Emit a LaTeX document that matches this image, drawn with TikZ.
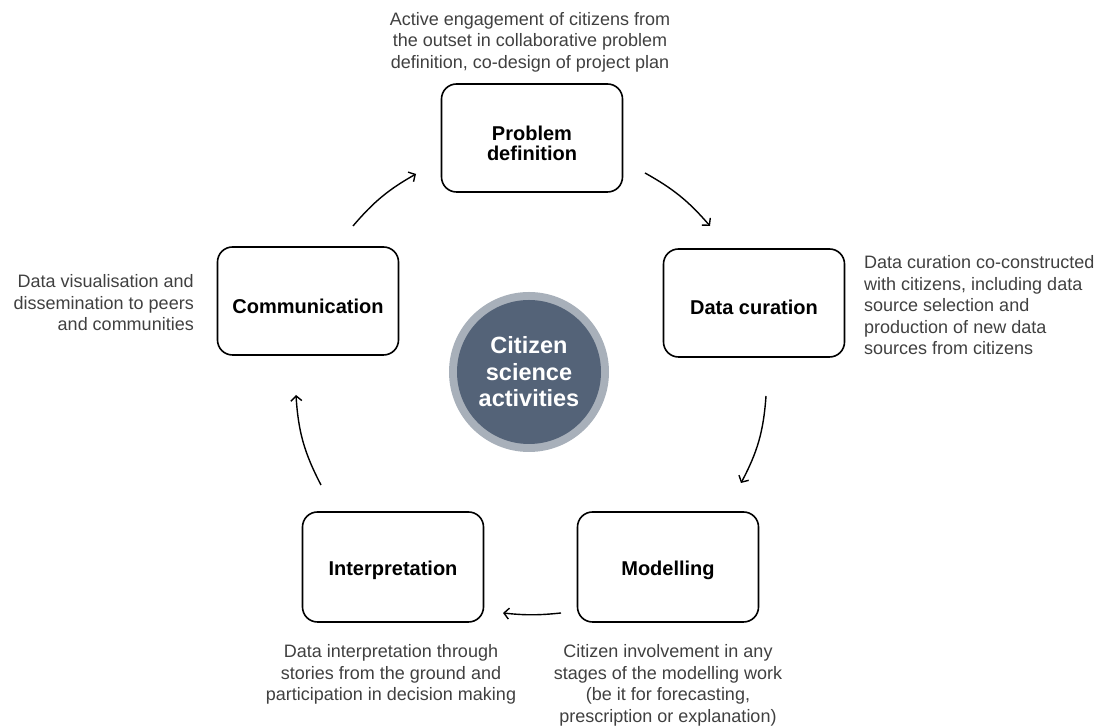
\documentclass[tikz,border=0pt]{standalone}
\usepackage{fontspec}
\setmainfont{Liberation Sans}
\usetikzlibrary{arrows.meta}
\definecolor{ringgray}{HTML}{A8B0BA}
\definecolor{coreblue}{HTML}{546378}
\definecolor{textgray}{HTML}{404040}
\begin{document}
\begin{tikzpicture}[x=1pt,y=1pt,
  box/.style={draw, line width=1.6pt, rounded corners=15pt, minimum width=181pt, minimum height=108pt, inner sep=0pt},
  boxlabel/.style={font=\fontsize{20}{20}\selectfont\bfseries, align=center, inner sep=0pt},
  desc/.style={text=textgray, font=\fontsize{18}{21.5}\selectfont, inner sep=0pt},
  flow/.style={line width=1.4pt, -{Straight Barb[length=5pt,width=11pt,line width=1.4pt]}}]
\useasboundingbox (0,0) rectangle (1104,727);
% boxes
\node[box] (prob) at (532,589) {};
\node[box] (data) at (754,424) {};
\node[box] (comm) at (308,426) {};
\node[box, minimum height=110pt] (model) at (668,160) {};
\node[box, minimum height=110pt] (interp) at (393,160) {};
\node[boxlabel, anchor=north] (probl) at ([yshift=12pt]prob.center) {Problem\\definition};
\node[boxlabel, anchor=base] (datal) at ([yshift=-12pt]data.center) {Data curation};
\node[boxlabel, anchor=base] (comml) at ([yshift=-12.5pt]comm.center) {Communication};
\node[boxlabel, anchor=base] (modell) at ([yshift=-9pt]model.center) {Modelling};
\node[boxlabel, anchor=base] (interpl) at ([yshift=-9pt]interp.center) {Interpretation};
% centre
\node[circle, fill=ringgray, minimum size=160pt, inner sep=0pt] (ring) at (529,355) {};
\node[circle, fill=coreblue, minimum size=144pt, inner sep=0pt, text=white, align=center,
  font=\fontsize{23.5}{26.5}\selectfont\bfseries] (core) at (529,355) {Citizen\\science\\activities};
% descriptions
\node[desc, anchor=north, align=center] (tprob) at (530,715) {Active engagement of citizens from\\the outset in collaborative problem\\definition, co-design of project plan};
\node[desc, anchor=north west, align=left] (tdata) at (864,471.5) {Data curation co-constructed\\with citizens, including data\\source selection and\\production of new data\\sources from citizens};
\node[desc, anchor=north east, align=right] (tcomm) at (194,452.5) {Data visualisation and\\dissemination to peers\\and communities};
\node[desc, anchor=north, align=center] (tinterp) at (391,82.5) {Data interpretation through\\stories from the ground and\\participation in decision making};
\node[desc, anchor=north, align=center] (tmodel) at (668,82.5) {Citizen involvement in any\\stages of the modelling work\\(be it for forecasting,\\prescription or explanation)};
% arrow ends
\coordinate (a1s) at (353,501); \coordinate (a1e) at (416,553);
\coordinate (a2s) at (645,554); \coordinate (a2e) at (710,501);
\coordinate (a3s) at (766,331); \coordinate (a3e) at (741,244);
\coordinate (a4s) at (561,114); \coordinate (a4e) at (503,114);
\coordinate (a5s) at (321,242); \coordinate (a5e) at (296,332);
\draw[flow] (a1s) to[bend left=10] (a1e);
\draw[flow] (a2s) to[bend left=10] (a2e);
\draw[flow] (a3s) to[bend left=12] (a3e);
\draw[flow] (a4s) to[bend left=6] (a4e);
\draw[flow] (a5s) to[bend left=12] (a5e);
\end{tikzpicture}
\end{document}
